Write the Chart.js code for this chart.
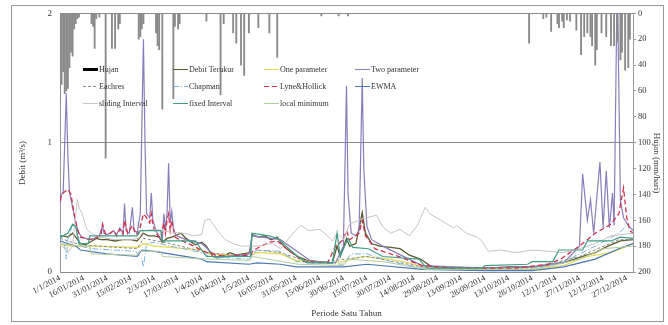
<!DOCTYPE html>
<html>
<head>
<meta charset="utf-8">
<script src="https://cdn.jsdelivr.net/npm/chart.js@4/dist/chart.umd.min.js"></script>
<style>
html,body{margin:0;padding:0;background:#fff;}
canvas{display:block;}
</style>
</head>
<body>
<canvas id="c" width="668" height="325"></canvas>
<script>
// ---------- DATA (day of year 0 = 1/1/2014) ----------
const tickLabels = ['1/1/2014','16/01/2014','31/01/2014','15/02/2014','2/3/2014','17/03/2014','1/4/2014','16/04/2014','1/5/2014','16/05/2014','31/05/2014','15/06/2014','30/06/2014','15/07/2014','30/07/2014','14/08/2014','29/08/2014','13/09/2014','28/09/2014','13/10/2014','28/10/2014','12/11/2014','27/11/2014','12/12/2014','27/12/2014'];

const rainDays   = [0,1,2,3,4,5,6,7,8,9,10,11,12,20,21,22,23,25,29,33,35,37,38,50,51,52,53,61,62,63,65,72,73,75,76,93,102,104,110,112,115,117,120,126,133,138,166,177,183,298,307,309,312,316,317,319,320,322,324,328,331,333,335,337,338,340,341,344,347,350,352,354,356,357,359,361,362];
const rainValues = [71,55,45,62,60,58,42,30,33,12,8,4,3,8,10,27,4,3,112,27,27,12,8,20,18,12,8,15,25,28,74,66,10,12,8,6,63,8,15,23,40,48,15,11,15,34,2,2,2,23,4,3,14,8,11,6,11,5,6,13,32,18,15,18,25,40,28,15,18,25,25,22,36,30,44,42,20];

const debitDays   = [0,2,5,8,10,13,16,19,23,26,30,35,40,45,49,51,53,56,60,63,65,68,71,75,77,80,86,90,93,97,100,105,108,112,116,121,122,126,130,134,138,142,146,151,157,165,173,176,178,182,184,188,192,194,198,203,210,216,222,229,235,241,255,271,285,300,313,322,332,340,348,356,364];
const debitValues = [0.28,0.28,0.27,0.3,0.27,0.22,0.21,0.23,0.26,0.25,0.25,0.24,0.25,0.25,0.24,0.27,0.3,0.28,0.28,0.27,0.23,0.26,0.27,0.29,0.3,0.26,0.21,0.23,0.2,0.12,0.11,0.13,0.15,0.13,0.14,0.15,0.29,0.27,0.28,0.25,0.27,0.2,0.16,0.12,0.09,0.08,0.07,0.2,0.12,0.26,0.2,0.22,0.46,0.3,0.22,0.2,0.19,0.18,0.13,0.1,0.05,0.03,0.03,0.03,0.04,0.04,0.06,0.08,0.12,0.15,0.2,0.24,0.25];

const oneParDays   = [0,10,20,50,53,60,80,90,95,120,125,140,150,170,180,192,210,225,235,300,320,335,350,360,364];
const oneParValues = [0.21,0.2,0.2,0.19,0.22,0.2,0.18,0.17,0.14,0.12,0.15,0.14,0.09,0.07,0.08,0.12,0.1,0.06,0.02,0.02,0.05,0.12,0.15,0.2,0.22];

const twoParDays   = [0,1,2,3,4,5,6,8,10,12,14,18,22,25,27,28,30,32,34,36,38,40,41,42,44,46,47,49,51,53,54,55,57,58,59,61,63,65,66,67,68,69,70,71,72,74,80,90,100,120,122,140,160,175,180,181,182,183,185,188,190,191,192,193,195,198,205,230,270,300,320,330,332,335,337,339,343,345,347,349,351,352,354,356,358,361,364];
const twoParValues = [0.52,0.6,0.62,1.0,1.38,0.9,0.62,0.5,0.38,0.3,0.27,0.25,0.26,0.28,0.36,0.3,0.29,0.3,0.32,0.29,0.34,0.3,0.53,0.32,0.3,0.5,0.33,0.3,0.45,1.8,1.0,0.45,0.42,0.61,0.4,0.32,0.27,0.25,0.45,0.33,0.45,0.84,0.38,0.47,0.33,0.28,0.25,0.22,0.11,0.14,0.28,0.25,0.08,0.07,0.2,0.8,1.44,0.6,0.3,0.28,0.32,0.9,1.5,0.8,0.35,0.25,0.2,0.05,0.03,0.04,0.07,0.2,0.76,0.4,0.56,0.3,0.85,0.34,0.78,0.34,0.61,0.36,2.3,0.55,0.42,0.36,0.32];

const eachresDays   = [0,13,49,53,70,93,121,125,140,160,182,195,230,300,330,355,364];
const eachresValues = [0.26,0.21,0.18,0.26,0.22,0.15,0.12,0.17,0.15,0.07,0.1,0.12,0.04,0.03,0.12,0.25,0.25];

const chapmanDays   = [0,3,4,5,8,10,13,20,48,52,53,55,60,70,90,95,120,125,140,150,180,185,195,210,230,300,320,340,355,360,364];
const chapmanValues = [0.3,0.2,0.1,0.25,0.37,0.36,0.2,0.18,0.16,0.1,0.04,0.22,0.23,0.2,0.15,0.12,0.1,0.17,0.16,0.08,0.06,0.14,0.14,0.08,0.03,0.02,0.08,0.2,0.3,0.36,0.33];

const lyneDays   = [0,1,3,5,7,9,11,13,20,26,27,29,32,34,36,38,40,41,43,46,48,50,53,55,57,58,59,61,64,66,67,68,69,70,71,73,76,85,93,105,121,123,128,133,138,145,155,170,175,180,182,184,190,192,194,200,215,230,250,290,310,318,330,340,350,355,358,360,362,364];
const lyneValues = [0.55,0.6,0.62,0.64,0.6,0.45,0.33,0.27,0.25,0.28,0.37,0.29,0.3,0.32,0.28,0.33,0.29,0.4,0.3,0.36,0.29,0.3,0.45,0.42,0.38,0.45,0.36,0.3,0.26,0.38,0.3,0.4,0.45,0.32,0.4,0.27,0.25,0.2,0.15,0.12,0.13,0.17,0.2,0.23,0.24,0.17,0.08,0.07,0.2,0.25,0.32,0.25,0.3,0.4,0.28,0.18,0.12,0.05,0.03,0.03,0.06,0.1,0.2,0.3,0.37,0.45,0.65,0.42,0.32,0.3];

const ewmaDays   = [0,10,13,30,49,52,60,90,93,120,125,140,150,180,195,230,270,300,320,340,355,364];
const ewmaValues = [0.24,0.2,0.17,0.14,0.12,0.17,0.16,0.1,0.08,0.06,0.07,0.06,0.04,0.04,0.06,0.02,0.01,0.01,0.04,0.1,0.18,0.22];

const slidingDays   = [0,5,8,10,11,12,14,17,20,25,35,45,50,53,60,70,78,85,90,92,95,100,105,110,115,125,135,140,148,153,158,165,170,173,176,180,184,192,201,205,210,216,222,227,232,235,242,250,252,258,265,268,270,272,280,290,300,310,320,330,340,350,364];
const slidingValues = [0.22,0.15,0.2,0.45,0.56,0.5,0.45,0.33,0.3,0.27,0.25,0.25,0.26,0.32,0.33,0.31,0.3,0.28,0.29,0.4,0.41,0.32,0.25,0.22,0.2,0.2,0.22,0.18,0.3,0.36,0.32,0.33,0.28,0.24,0.3,0.25,0.37,0.41,0.44,0.35,0.3,0.33,0.28,0.36,0.5,0.45,0.4,0.34,0.36,0.3,0.27,0.24,0.2,0.16,0.17,0.15,0.17,0.16,0.15,0.18,0.22,0.28,0.3];

const fixedDays   = [0,5,8,10,12,18,19,49,51,64,65,86,90,93,121,122,133,138,151,157,173,176,178,183,186,196,205,228,233,268,270,297,300,313,317,332,335,350,356,364];
const fixedValues = [0.27,0.3,0.37,0.35,0.22,0.22,0.28,0.28,0.32,0.32,0.24,0.24,0.17,0.12,0.12,0.3,0.28,0.26,0.12,0.07,0.07,0.3,0.12,0.26,0.19,0.18,0.12,0.1,0.03,0.03,0.05,0.06,0.08,0.08,0.17,0.17,0.24,0.24,0.27,0.26];

const localMinDays   = [0,13,19,20,49,50,64,65,93,121,122,151,180,183,205,233,300,313,330,345,364];
const localMinValues = [0.22,0.2,0.2,0.14,0.13,0.16,0.16,0.12,0.1,0.09,0.12,0.06,0.05,0.1,0.08,0.02,0.02,0.05,0.1,0.18,0.2];

// ---------- helpers ----------
const pts = (days, vals) => days.map((d, i) => ({x: d, y: vals[i]}));
const dayOfYear = s => { const p = s.split('/').map(Number); return Math.round((Date.UTC(p[2], p[1]-1, p[0]) - Date.UTC(2014,0,1)) / 86400000); };
const tickDays = tickLabels.map(dayOfYear);
const SERIF = '"Liberation Serif","Times New Roman",serif';

function lineDs(label, days, vals, color, width, dash, order) {
  return {type:'line', label, data: pts(days, vals), borderColor: color, backgroundColor: color,
          borderWidth: width, borderDash: dash || [], pointRadius: 0, tension: 0, fill: false,
          yAxisID: 'y', order};
}

const datasets = [
  {type:'bar', label:'Hujan', data: pts(rainDays, rainValues), backgroundColor:'#8a8a8a',
   borderWidth:0, barThickness:1.2, yAxisID:'y1', order:0, legendColor:'#000', legendWidth:3},
  lineDs('Debit Terukur', debitDays, debitValues, '#5a5a2c', 1.3, null, 30),
  lineDs('One parameter', oneParDays, oneParValues, '#e2da4a', 1.2, null, 29),
  lineDs('Two parameter', twoParDays, twoParValues, '#8a7dbb', 1.2, null, 28),
  lineDs('Eachres', eachresDays, eachresValues, '#8c8c8c', 1, [3,2], 27),
  lineDs('Chapman', chapmanDays, chapmanValues, '#7fb3d5', 1, [6,2,1,2], 26),
  lineDs('Lyne&Hollick', lyneDays, lyneValues, '#d42e4c', 1.3, [5,3], 25),
  lineDs('EWMA', ewmaDays, ewmaValues, '#4a78b4', 1.2, null, 24),
  lineDs('sliding Interval', slidingDays, slidingValues, '#c9c3c3', 1, null, 23),
  lineDs('fixed Interval', fixedDays, fixedValues, '#3e9e86', 1.2, null, 22),
  lineDs('local minimum', localMinDays, localMinValues, '#b4cca0', 1, null, 21)
];

// ---------- decorations: frame, legend, side titles ----------
const decor = {
  id: 'decor',
  beforeDraw(chart) {
    const c = chart.ctx;
    c.save(); c.fillStyle = '#fff'; c.fillRect(0, 0, chart.width, chart.height); c.restore();
  },
  afterDraw(chart) {
    const c = chart.ctx;
    c.save();
    c.strokeStyle = '#9a9a9a'; c.lineWidth = 1;
    c.strokeRect(11.5, 5.5, 652, 316);
    const colX = [83, 173, 264, 355], rowY = [69, 86, 103], len = 15;
    c.font = '8px ' + SERIF; c.textBaseline = 'middle'; c.textAlign = 'left';
    chart.data.datasets.forEach((ds, i) => {
      const x = colX[i % 4], y = rowY[Math.floor(i / 4)];
      c.beginPath();
      c.strokeStyle = ds.legendColor || ds.borderColor;
      c.lineWidth = ds.legendWidth || 1;
      c.setLineDash(ds.borderDash || []);
      c.moveTo(x, y + 0.5); c.lineTo(x + len, y + 0.5); c.stroke();
      c.setLineDash([]);
      c.fillStyle = '#333';
      c.fillText(ds.label, x + len + 1, y + 0.5);
    });
    c.font = '9px ' + SERIF; c.fillStyle = '#333'; c.textAlign = 'center';
    c.save(); c.translate(23, 163); c.rotate(-Math.PI / 2); c.fillText('Debit (m³/s)', 0, 0); c.restore();
    c.save(); c.translate(656, 163); c.rotate(Math.PI / 2); c.fillText('Hujan (mm/hari)', 0, 0); c.restore();
    c.restore();
  }
};

new Chart(document.getElementById('c'), {
  type: 'line',
  data: { datasets },
  options: {
    responsive: false, animation: false, devicePixelRatio: 1,
    layout: { padding: { left: 12, right: 4, top: 10, bottom: 4 } },
    plugins: { legend: { display: false }, tooltip: { enabled: false } },
    scales: {
      x: {
        type: 'linear', min: 0, max: 364, offset: false,
        afterBuildTicks: a => { a.ticks = tickDays.map(v => ({value: v})); },
        afterFit: a => { a.height = 49; },
        ticks: { autoSkip: false, minRotation: 28, maxRotation: 28, padding: 1, color: '#333',
                 font: { family: SERIF, size: 8.5 },
                 callback: v => tickLabels[tickDays.indexOf(v)] || '' },
        grid: { display: false, drawTicks: false },
        border: { display: true, color: '#8c8c8c' },
        title: { display: true, text: 'Periode Satu Tahun', color: '#333', font: { family: SERIF, size: 9 }, padding: { top: 0, bottom: 2 } }
      },
      y: {
        position: 'left', min: 0, max: 2,
        afterFit: a => { a.width = 48; },
        ticks: { stepSize: 1, padding: 8, color: '#333', font: { family: SERIF, size: 9 } },
        grid: { color: '#8c8c8c', drawTicks: false },
        border: { display: true, color: '#9a9a9a' }
      },
      y1: {
        position: 'right', min: 0, max: 200, reverse: true,
        afterFit: a => { a.width = 31; },
        ticks: { stepSize: 20, padding: 2, color: '#333', font: { family: SERIF, size: 8.5 } },
        grid: { drawOnChartArea: false, drawTicks: true, tickLength: 3, color: '#9a9a9a' },
        border: { display: true, color: '#9a9a9a' }
      }
    }
  },
  plugins: [decor]
});
</script>
</body>
</html>
